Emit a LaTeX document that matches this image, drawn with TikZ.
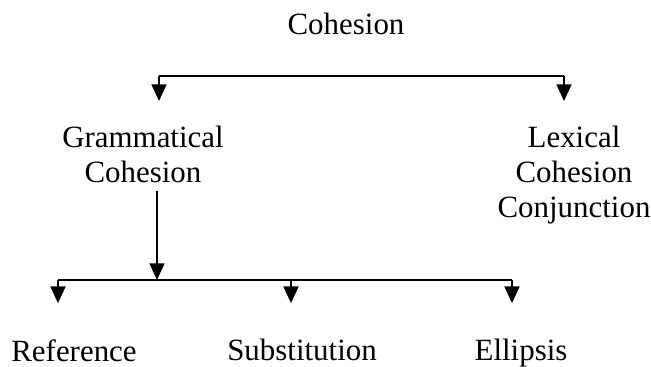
\documentclass[tikz,border=0pt]{standalone}
\usepackage{fontspec}
\setmainfont{Liberation Serif}
\usepackage{tikz}
\usetikzlibrary{arrows.meta,calc}
\tikzset{
  term/.style={anchor=north, align=center, inner sep=0pt, font=\fontsize{17.6}{19.8}\selectfont},
  link/.style={draw=black, line width=1.1pt},
  flow/.style={link, -{Triangle[length=9.5pt,width=8.5pt]}},
}

\begin{document}
\begin{tikzpicture}[x=0.02cm, y=-0.02cm]
    \useasboundingbox (0,0) rectangle (651,366);
    \node[term] (coh) at (346,13) {Cohesion};
    \node[term] (gram) at (143,126) {Grammatical\\Cohesion};
    \node[term] (lex) at (574,126) {Lexical\\Cohesion\\Conjunction};
    \node[term] (ref) at (74,339) {Reference};
    \node[term] (sub) at (302,339) {Substitution};
    \node[term] (ell) at (521,339) {Ellipsis};
    \coordinate (cohL) at (159,76);
    \coordinate (cohR) at (564,76);
    \coordinate (gramB) at (157,280);
    \coordinate (grmL) at (58,280);
    \coordinate (grmM) at (291,280);
    \coordinate (grmR) at (512,280);
    \draw[link] (cohL) -- (cohR);
    \draw[flow, shorten >=14.2pt] (cohL) -- (cohL |- gram.north);
    \draw[flow, shorten >=14.2pt] (cohR) -- (cohR |- lex.north);
    \draw[flow, shorten <=4.5pt] (gramB |- gram.south) -- (gramB);
    \draw[link] (grmL) -- (grmR);
    \draw[flow, shorten >=20.4pt] (grmL) -- (grmL |- ref.north);
    \draw[flow, shorten >=20.4pt] (grmM) -- (grmM |- sub.north);
    \draw[flow, shorten >=20.4pt] (grmR) -- (grmR |- ell.north);
  \end{tikzpicture}
\end{document}
